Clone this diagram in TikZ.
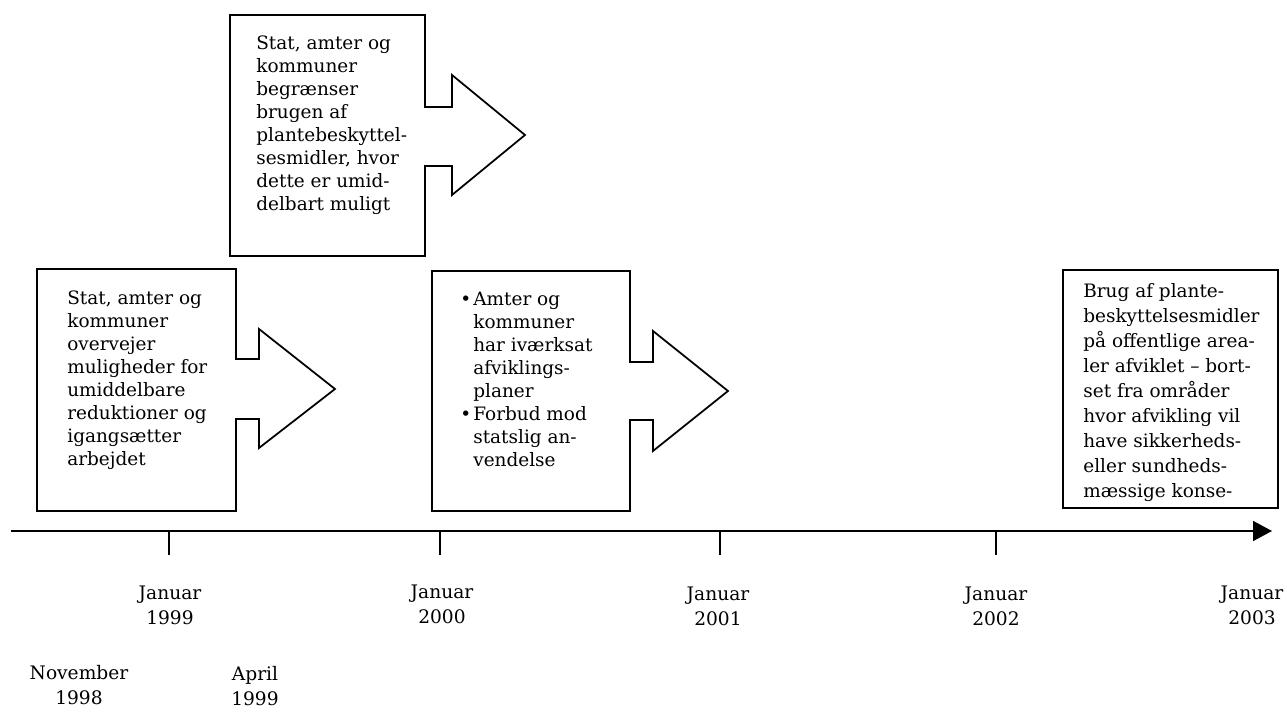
\documentclass[tikz,border=0pt]{standalone}
\usepackage{fontspec}
\setmainfont{DejaVu Serif}
\usetikzlibrary{arrows.meta}

\newcommand{\bitem}{\makebox[0.26cm][l]{\textbullet}}
\newcommand{\bindent}{\hspace*{0.26cm}}

\begin{document}
\begin{tikzpicture}[line cap=butt, line join=miter,
	boxline/.style={line width=1pt},
	axisline/.style={line width=1pt},
	boxtext/.style={align=left, inner sep=0pt, anchor=north west,
		font=\fontsize{10.5}{13.1}\selectfont},
	datelabel/.style={align=center, inner sep=0pt,
		font=\fontsize{10.6}{14.2}\selectfont}]
	
	\useasboundingbox (0,0) rectangle (25.74,14.22);
	
	% ---------- Upper box with arrow (April 1999) ----------
	\draw[boxline]
	(4.60,13.92) -- (8.50,13.92) -- (8.50,12.08) -- (9.04,12.08) -- (9.04,12.72)
	-- (10.50,11.52) -- (9.04,10.32) -- (9.04,10.90) -- (8.50,10.90)
	-- (8.50,9.10) -- (4.60,9.10) -- cycle;
	\node[boxtext] (apriltext) at (5.12,13.52)
	{Stat, amter og\\kommuner\\begrænser\\brugen af\\plantebeskyttel-\\sesmidler, hvor\\dette er umid-\\delbart muligt};
	
	% ---------- Left box with arrow (November 1998) ----------
	\draw[boxline]
	(0.74,8.84) -- (4.72,8.84) -- (4.72,7.04) -- (5.18,7.04) -- (5.18,7.64)
	-- (6.70,6.44) -- (5.18,5.26) -- (5.18,5.84) -- (4.72,5.84)
	-- (4.72,4.00) -- (0.74,4.00) -- cycle;
	\node[boxtext] (novtext) at (1.34,8.42)
	{Stat, amter og\\kommuner\\overvejer\\muligheder for\\umiddelbare\\reduktioner og\\igangsætter\\arbejdet};
	
	% ---------- Middle box with arrow (Januar 2000) ----------
	\draw[boxline]
	(8.64,8.80) -- (12.60,8.80) -- (12.60,6.98) -- (13.06,6.98) -- (13.06,7.60)
	-- (14.56,6.40) -- (13.06,5.20) -- (13.06,5.82) -- (12.60,5.82)
	-- (12.60,4.00) -- (8.64,4.00) -- cycle;
	\node[boxtext] (jantext) at (9.20,8.38)
	{\bitem Amter og\\\bindent kommuner\\\bindent har iværksat\\\bindent afviklings-\\\bindent planer\\\bitem Forbud mod\\\bindent statslig an-\\\bindent vendelse};
	
	% ---------- Right box (Januar 2003), text cut at the frame ----------
	\draw[boxline] (21.26,8.82) rectangle (25.56,4.06);
	\begin{scope}
		\clip (21.26,8.82) rectangle (25.56,4.06);
		\node[boxtext, font=\fontsize{10.5}{14.2}\selectfont] (endtext) at (21.66,8.56)
		{Brug af plante-\\beskyttelsesmidler\\på offentlige area-\\ler afviklet – bort-\\set fra områder\\hvor afvikling vil\\have sikkerheds-\\eller sundheds-\\mæssige konse-};
	\end{scope}
	
	% ---------- Time axis ----------
	\coordinate (axisstart) at (0.22,3.60);
	\coordinate (axisend) at (25.44,3.60);
	\draw[axisline, -{Triangle[length=0.38cm, width=0.40cm]}] (axisstart) -- (axisend);
	
	% year ticks
	\draw[axisline] (3.38,3.60) -- (3.38,3.12);
	\draw[axisline] (8.80,3.60) -- (8.80,3.12);
	\draw[axisline] (14.40,3.60) -- (14.40,3.12);
	\draw[axisline] (19.92,3.60) -- (19.92,3.12);
	
	% year labels
	\node[datelabel] (jan99) at (3.40,2.12) {Januar\\1999};
	\node[datelabel] (jan00) at (8.84,2.14) {Januar\\2000};
	\node[datelabel] (jan01) at (14.36,2.09) {Januar\\2001};
	\node[datelabel] (jan02) at (19.92,2.09) {Januar\\2002};
	\node[datelabel] (jan03) at (25.04,2.12) {Januar\\2003};
	
	% months below
	\node[datelabel] (nov98) at (1.58,0.52) {November\\1998};
	\node[datelabel] (apr99) at (5.10,0.50) {April\\1999};
	
\end{tikzpicture}
\end{document}
